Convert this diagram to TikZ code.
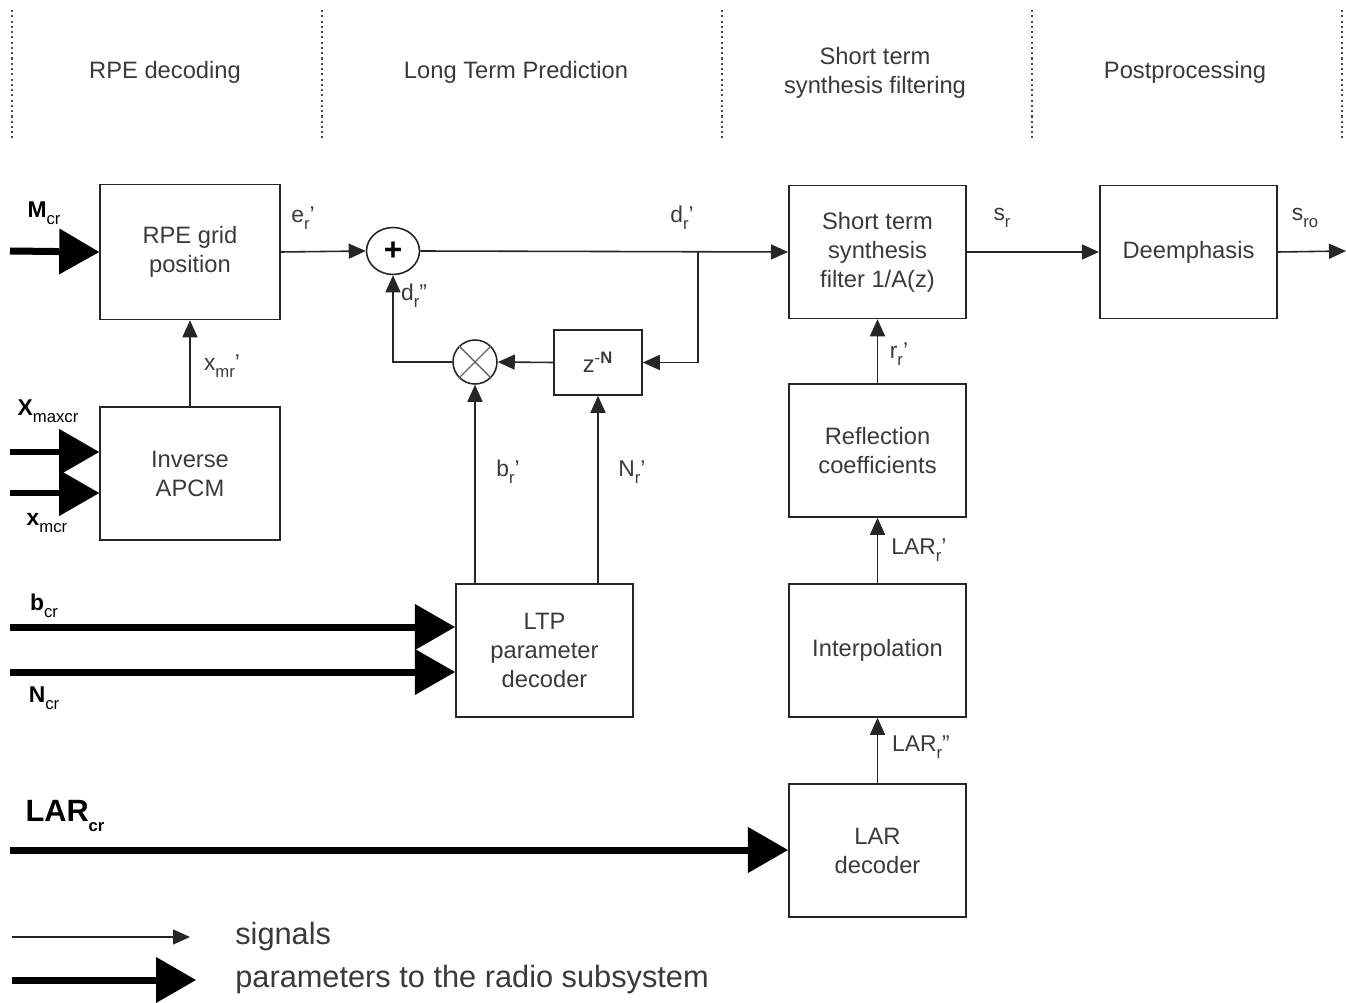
\documentclass[tikz,border=0pt]{standalone}
\usepackage{fontspec}
\setmainfont{Liberation Sans}
\usetikzlibrary{arrows.meta,shapes.geometric,calc}

\definecolor{inkgray}{HTML}{3A3A3A}
\newcommand\blkfont{\fontsize{13.5}{16.5}\selectfont}
\newcommand\lblfont{\fontsize{13}{15}\selectfont}
\newcommand\legfont{\fontsize{17.5}{20}\selectfont}
\newcommand\lo[1]{\raisebox{-0.6ex}{\fontsize{9.5}{10}\selectfont #1}}

\tikzset{
  block/.style={draw=black!85, line width=0.9pt, minimum width=3.55cm, minimum height=2.66cm,
    align=center, text=inkgray, font=\blkfont},
  sig/.style={draw=black!85, line width=0.9pt, -{Triangle[length=0.34cm,width=0.3cm]}},
  param/.style={draw=black, line width=0.14cm, -{Triangle[length=0.8cm,width=0.92cm,line width=0pt]}},
  lbl/.style={text=inkgray, font=\lblfont, inner sep=0pt},
  plbl/.style={text=black, font=\lblfont, inner sep=0pt},
  sep/.style={draw=black!70, line width=0.8pt, dash pattern=on 1.2pt off 1.8pt},
}

\begin{document}
\begin{tikzpicture}[x=0.02cm,y=-0.02cm]
  \useasboundingbox (0,0) rectangle (1346,1003);

  % section headers
  \foreach \k in {12,322,722,1032,1342}{\draw[sep] (\k,10) -- (\k,138);}
  \node[block,draw=none,minimum size=0pt] (hdr-rpe) at (165,72) {RPE decoding};
  \node[block,draw=none,minimum size=0pt] (hdr-ltp) at (516,72) {Long Term Prediction};
  \node[block,draw=none,minimum size=0pt] (hdr-stf) at (875,73) {Short term\\synthesis filtering};
  \node[block,draw=none,minimum size=0pt] (hdr-post) at (1185,72) {Postprocessing};

  % blocks
  \node[block,minimum width=3.6cm,minimum height=2.7cm] (rpe) at (190,252) {RPE grid\\position};
  \node[block,minimum width=3.6cm] (apcm) at (190,473.5) {Inverse\\APCM};
  \node[block,minimum width=1.76cm,minimum height=1.3cm] (delay) at (598,362.5) {z\textsuperscript{-\textbf{N}}};
  \node[block] (ltp) at (544.5,650.5) {LTP\\parameter\\decoder};
  \node[block] (stf) at (877.5,252) {Short term\\synthesis\\filter 1/A(z)};
  \node[block] (deemph) at (1188.5,252) {Deemphasis};
  \node[block] (refl) at (877.5,450.5) {Reflection\\coefficients};
  \node[block] (interp) at (877.5,650.5) {Interpolation};
  \node[block] (lardec) at (877.5,850.5) {LAR\\decoder};

  \node[draw=black!85,line width=0.9pt,ellipse,minimum width=1.06cm,minimum height=0.94cm,
    inner sep=0pt,font=\fontsize{18}{18}\selectfont\bfseries] (adder) at (393,251) {+};
  \node[draw=black!85,line width=0.9pt,circle,minimum size=0.88cm,inner sep=0pt] (mult) at (475,362) {};
  \draw[black!60,line width=0.8pt] (mult.north east) -- (mult.south west);
  \draw[black!60,line width=0.8pt] (mult.north west) -- (mult.south east);

  % signals
  \coordinate (tap) at (698,251);
  \coordinate (out) at (1346,251);
  \draw[sig] (rpe.east) -- (adder.west);
  \draw[sig] (adder.east) -- (stf.west);
  \draw[sig] (tap) |- (delay.east);
  \draw[sig] (delay.west) -- (mult.east);
  \draw[sig] (mult.west) -| (adder.south);
  \draw[sig] (mult.south |- ltp.north) -- (mult.south);
  \draw[sig] (delay.south |- ltp.north) -- (delay.south);
  \draw[sig] (apcm) -- (rpe);
  \draw[sig] (stf.east) -- (deemph.west);
  \draw[sig] (deemph.east) -- (out);
  \draw[sig] (refl) -- (stf);
  \draw[sig] (interp) -- (refl);
  \draw[sig] (lardec) -- (interp);

  % parameters
  \coordinate (mcr) at (10,251);
  \coordinate (xmaxcr) at (10,452);
  \coordinate (xmcr) at (10,493);
  \coordinate (bcr) at (10,627);
  \coordinate (ncr) at (10,672);
  \coordinate (larcr) at (10,850);
  \draw[param] (mcr) -- (rpe.west);
  \draw[param] (xmaxcr) -- (xmaxcr -| apcm.west);
  \draw[param] (xmcr) -- (xmcr -| apcm.west);
  \draw[param] (bcr) -- (bcr -| ltp.west);
  \draw[param] (ncr) -- (ncr -| ltp.west);
  \draw[param] (larcr) -- (larcr -| lardec.west);

  % labels
  \node[lbl] (l-e) at (303,218) {e\lo{r}'};
  \node[lbl] (l-d) at (682,218) {d\lo{r}'};
  \node[lbl] (l-dd) at (414,296) {d\lo{r}''};
  \node[lbl] (l-x) at (222,366) {x\lo{mr}'};
  \node[lbl] (l-b) at (508,472) {b\lo{r}'};
  \node[lbl] (l-n) at (632,472) {N\lo{r}'};
  \node[lbl] (l-s) at (1002,218) {s\lo{r}};
  \node[lbl] (l-so) at (1305,218) {s\lo{ro}};
  \node[lbl] (l-r) at (899,354) {r\lo{r}'};
  \node[lbl] (l-lar1) at (919,550) {LAR\lo{r}'};
  \node[lbl] (l-lar2) at (921,747) {LAR\lo{r}''};
  \node[plbl] (l-mcr) at (44,213) {\textbf{M}\lo{cr}};
  \node[plbl] (l-xmax) at (48,411) {\textbf{X}\lo{maxcr}};
  \node[plbl] (l-xm) at (47,523) {\textbf{x}\lo{mcr}};
  \node[plbl] (l-bcr) at (44,606) {\textbf{b}\lo{cr}};
  \node[plbl] (l-ncr) at (44,698) {\textbf{N}\lo{cr}};
  \node[plbl,font=\legfont\bfseries] (l-lar) at (65,816) {LAR\lo{\bfseries cr}};

  % legend
  \coordinate (leg1a) at (12,937);
  \coordinate (leg1b) at (190,937);
  \coordinate (leg2a) at (12,980);
  \coordinate (leg2b) at (196,980);
  \draw[sig] (leg1a) -- (leg1b);
  \draw[param] (leg2a) -- (leg2b);
  \node[lbl,font=\legfont,anchor=west] (leg-sig) at (235,937) {signals};
  \node[lbl,font=\legfont,anchor=west] (leg-par) at (235,980) {parameters to the radio subsystem};
\end{tikzpicture}
\end{document}
